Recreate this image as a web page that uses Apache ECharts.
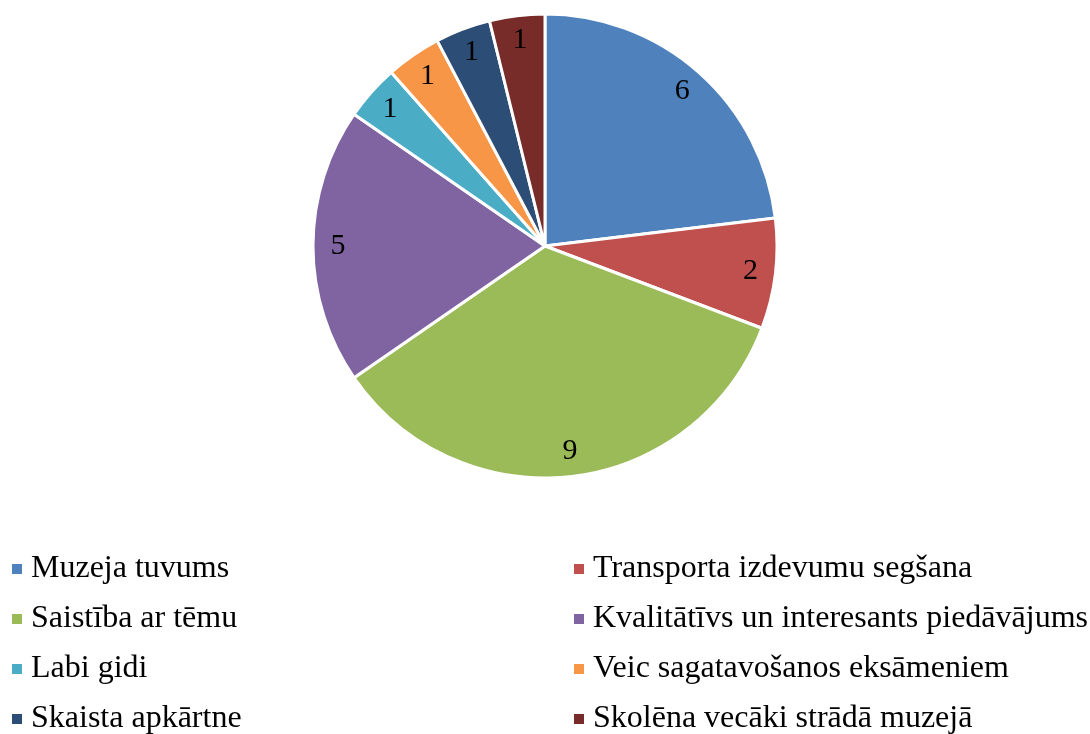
<!DOCTYPE html>
<html>
<head>
<meta charset="utf-8">
<script src="https://cdn.jsdelivr.net/npm/echarts@6/dist/echarts.min.js"></script>
<style>
  html, body { margin: 0; padding: 0; background: #fff; }
  #chart { width: 1090px; height: 734px; }
</style>
</head>
<body>
<div id="chart"></div>
<script>
const categories = [
  'Muzeja tuvums',
  'Transporta izdevumu segšana',
  'Saistība ar tēmu',
  'Kvalitātīvs un interesants piedāvājums',
  'Labi gidi',
  'Veic sagatavošanos eksāmeniem',
  'Skaista apkārtne',
  'Skolēna vecāki strādā muzejā'
];
const values = [6, 2, 9, 5, 1, 1, 1, 1];
const colors = ['#4F81BD', '#C0504D', '#9BBB59', '#8064A2', '#4BACC6', '#F79646', '#2C4D75', '#772C2A'];

const font = '"Liberation Serif", "Times New Roman", serif';
const pieData = categories.map((name, i) => ({ name: name, value: values[i] }));

let myChart = echarts.init(document.getElementById('chart'));

let legendBase = {
  orient: 'vertical',
  top: 553,
  height: 200,
  padding: 0,
  icon: 'rect',
  itemWidth: 12,
  itemHeight: 12,
  itemGap: 18,
  textStyle: {
    fontFamily: font,
    fontSize: 32,
    lineHeight: 32,
    color: '#000',
    padding: [0, 0, 0, 3]
  },
  selectedMode: false
};

let option = {
  color: colors,
  animation: false,
  legend: [
    Object.assign({}, legendBase, { left: 10, data: categories.filter((c, i) => i % 2 === 0) }),
    Object.assign({}, legendBase, { left: 572, data: categories.filter((c, i) => i % 2 === 1) })
  ],
  series: [
    {
      name: 'pie',
      type: 'pie',
      center: [545, 246],
      radius: [0, 232],
      startAngle: 90,
      clockwise: true,
      itemStyle: { borderColor: '#fff', borderWidth: 3 },
      label: { show: false },
      labelLine: { show: false },
      emphasis: { disabled: true },
      data: pieData
    },
    {
      // transparent ring only to place value labels near the rim
      name: 'labels',
      type: 'pie',
      center: [545, 246],
      radius: [176, 232],
      startAngle: 90,
      clockwise: true,
      silent: true,
      legendHoverLink: false,
      itemStyle: { color: 'rgba(0,0,0,0)', borderWidth: 0 },
      label: {
        show: true,
        position: 'inside',
        formatter: '{c}',
        fontFamily: font,
        fontSize: 30,
        color: '#000'
      },
      labelLine: { show: false },
      emphasis: { disabled: true },
      data: pieData.map(d => ({ name: d.name, value: d.value }))
    }
  ]
};
myChart.setOption(option);

window.addEventListener('resize', function () {
  myChart.resize();
});
</script>
</body>
</html>
